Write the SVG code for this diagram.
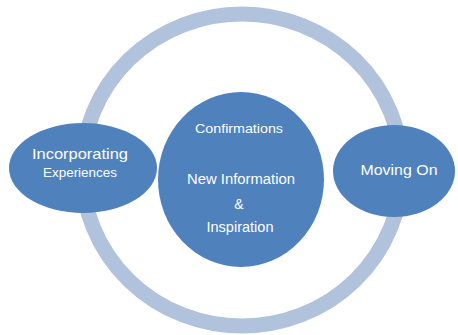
<svg xmlns="http://www.w3.org/2000/svg" width="458" height="335" viewBox="0 0 458 335">
<style>
.node{fill:#4f81bd}
.ring{fill:none;stroke:#b1c2dd;stroke-width:15}
.t{fill:#ffffff;font-family:"Liberation Sans","Open Sans",sans-serif;text-anchor:middle}
</style>
<rect width="458" height="335" fill="#ffffff"/>
<g id="connectors">
<ellipse class="ring" cx="242" cy="170" rx="160" ry="156"/>
</g>
<g id="center">
<ellipse class="node" cx="241" cy="179.5" rx="83" ry="87.5"/>
<text class="t" x="239" y="133" font-size="13" textLength="88" lengthAdjust="spacingAndGlyphs">Confirmations</text>
<text class="t" x="241" y="184" font-size="14" textLength="108" lengthAdjust="spacingAndGlyphs">New Information</text>
<text class="t" x="239" y="209" font-size="14">&amp;</text>
<text class="t" x="240" y="232" font-size="14" textLength="67" lengthAdjust="spacingAndGlyphs">Inspiration</text>
</g>
<g id="left">
<ellipse class="node" cx="83" cy="168" rx="74" ry="45"/>
<text class="t" x="80" y="159" font-size="15" textLength="96" lengthAdjust="spacingAndGlyphs">Incorporating</text>
<text class="t" x="80" y="177" font-size="12" textLength="74" lengthAdjust="spacingAndGlyphs">Experiences</text>
</g>
<g id="right">
<ellipse class="node" cx="394" cy="171" rx="61" ry="46"/>
<text class="t" x="399" y="175" font-size="15" textLength="77" lengthAdjust="spacingAndGlyphs">Moving On</text>
</g>
</svg>
